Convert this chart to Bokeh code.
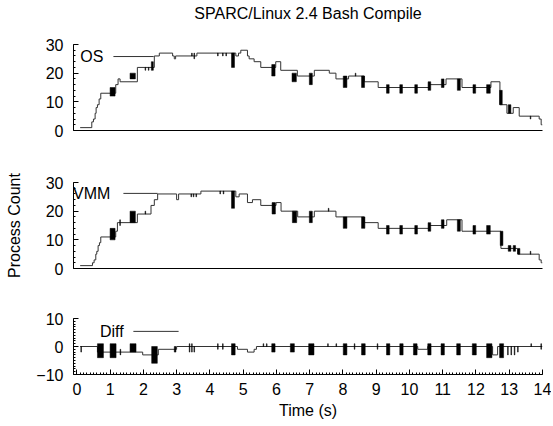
from bokeh.plotting import figure
from bokeh.layouts import column
from bokeh.models import Range1d, FixedTicker, Label
from bokeh.core.properties import value
from bokeh.embed import file_html
from bokeh.resources import INLINE

FONT = "Liberation Sans"
FS = "16px"

title_text = "SPARC/Linux 2.4 Bash Compile"
x_label = "Time (s)"
y_label = "Process Count"
x_ticks = [0, 1, 2, 3, 4, 5, 6, 7, 8, 9, 10, 11, 12, 13, 14]
count_ticks = [0, 10, 20, 30]
diff_ticks = [-10, 0, 10]

# ---- OS series (step start time, value) ----
os_t = [0.10, 0.45, 0.50, 0.55, 0.58, 0.62, 0.67, 0.72, 1.17, 1.24, 1.30, 1.82, 2.33,
        2.48, 2.88, 2.93, 2.97, 3.61, 4.78, 4.86, 4.93, 5.13, 5.18, 5.33, 5.53, 5.98,
        6.13, 6.63, 7.14, 7.59, 7.79, 8.17, 8.64, 9.06, 10.60, 11.10, 11.58, 12.45,
        12.72, 12.93, 13.12, 13.30, 13.90, 13.96, 14.00]
os_v = [1, 3, 4, 6, 8, 9, 11, 13, 16, 18, 17, 22, 26,
        27, 26, 25, 26, 27, 26, 27, 28, 26, 25, 24, 22, 24,
        21, 19, 21, 20, 18, 19, 17, 15, 16, 18, 15, 17,
        9, 6, 8, 5, 4, 2, 2]
# OS rapid-oscillation bursts: start, end, low, high
os_b0 = [1.00, 1.60, 2.24, 2.05, 2.15, 3.45, 3.52, 4.23, 4.38, 4.48, 4.65, 5.86, 6.47, 6.99,
         8.01, 8.37, 8.56, 9.31, 9.71, 10.16, 10.56, 10.96, 11.44, 11.91, 12.32, 12.71,
         12.97, 13.63]
os_b1 = [1.15, 1.76, 2.30, 2.07, 2.17, 3.47, 3.54, 4.25, 4.40, 4.50, 4.74, 5.96, 6.60, 7.08,
         8.12, 8.39, 8.65, 9.39, 9.79, 10.24, 10.64, 11.04, 11.53, 11.99, 12.43, 12.79,
         13.05, 13.65]
os_lo = [12, 18, 21, 21, 21, 26, 25, 26, 26, 26, 22, 19, 17, 16,
         15, 19, 15, 13, 13, 13, 14, 15, 14, 13, 13, 9,
         6, 4]
os_hi = [15, 20, 24, 22, 22, 27, 27, 27, 27, 27, 27, 23, 20, 20,
         19, 20, 19, 16, 16, 16, 17, 18, 18, 16, 16, 14,
         9, 5]

# ---- VMM series ----
vmm_t = [0.10, 0.47, 0.52, 0.57, 0.60, 0.64, 0.68, 0.72, 1.17, 1.22, 1.82, 2.23, 2.33,
         2.43, 3.00, 3.06, 3.73, 4.78, 4.88, 5.13, 5.28, 5.53, 5.99, 6.14, 6.64, 7.14,
         7.79, 8.64, 9.06, 10.60, 11.12, 11.58, 12.75, 13.25, 13.90, 13.96, 14.00]
vmm_v = [1, 2, 3, 5, 6, 8, 9, 11, 13, 16, 19, 22, 24,
         26, 24, 26, 27, 25, 26, 23, 24, 22, 23, 20, 18, 20,
         18, 16, 14, 15, 17, 13, 7, 5, 3, 2, 2]
vmm_b0 = [1.00, 1.29, 1.60, 2.05, 3.43, 3.50, 3.58, 4.30, 4.40, 4.65, 5.87, 6.48, 6.99,
          7.56, 8.01, 8.56, 9.31, 9.71, 10.16, 10.56, 10.96, 11.44, 11.91, 12.32, 12.73,
          12.97, 13.12, 13.26, 13.63]
vmm_b1 = [1.15, 1.31, 1.76, 2.07, 3.45, 3.52, 3.60, 4.32, 4.42, 4.74, 5.97, 6.61, 7.08,
          7.58, 8.12, 8.66, 9.39, 9.79, 10.24, 10.64, 11.04, 11.53, 11.99, 12.43, 12.81,
          13.05, 13.19, 13.32, 13.65]
vmm_lo = [10, 15, 16, 19, 25, 25, 25, 26, 26, 21, 19, 16, 16,
          20, 14, 14, 12, 12, 12, 13, 14, 13, 12, 12, 8,
          6, 6, 5, 5]
vmm_hi = [14, 17, 20, 20, 26, 26, 26, 27, 27, 27, 23, 20, 20,
          21, 18, 18, 15, 15, 15, 16, 17, 17, 15, 15, 13,
          8, 8, 7, 6]

# ---- Diff series ----
diff_t = [0.10, 0.62, 1.98, 2.45, 3.00, 4.83, 5.13, 5.33, 5.40, 10.25, 10.55, 12.50, 12.65, 14.00]
diff_v = [0, -2, -3, -1, 0, -1, -2, -1, 0, -1, 0, -3, 0, 0]
diff_b0 = [0.12, 0.62, 1.00, 1.30, 1.60, 2.25, 2.93, 3.38, 3.45, 3.52, 4.23, 4.38, 4.65, 5.60,
           5.70, 5.86, 6.42, 6.97, 7.54, 7.79, 8.01, 8.34, 8.56, 9.03, 9.31, 9.71, 10.12,
           10.55, 10.95, 11.42, 11.89, 12.32, 12.71, 12.95, 13.05, 13.15, 13.25, 13.65, 13.95]
diff_b1 = [0.14, 0.80, 1.18, 1.32, 1.78, 2.42, 2.98, 3.40, 3.47, 3.54, 4.25, 4.40, 4.76, 5.62,
           5.72, 5.96, 6.54, 7.13, 7.56, 7.81, 8.12, 8.36, 8.67, 9.05, 9.41, 9.81, 10.23,
           10.65, 11.05, 11.53, 12.01, 12.48, 12.83, 12.97, 13.07, 13.17, 13.27, 13.67, 13.97]
diff_lo = [-2, -4, -4, -3, -2, -6, -2, -2, -2, -2, -1, -1, -3, 0,
           0, -2, -2, -3, 0, 0, -3, -1, -3, -1, -3, -3, -3,
           -3, -3, -3, -3, -4, -4, -3, -3, -3, -2, 0, -1]
diff_hi = [0, 1, 1, -1, 1, 0, 0, 1, 1, 0, 1, 1, 1, 1,
           1, 1, 1, 1, 1, 1, 1, 1, 1, 1, 1, 1, 1,
           1, 1, 1, 1, 1, 1, 0, 0, 0, 0, 1, 1]

LINE = "#333333"


def bare(fh):
    p = figure(frame_width=469, frame_height=fh,
               min_border_left=73, min_border_right=9,
               min_border_top=0, min_border_bottom=0,
               x_range=Range1d(-0.1, 14), y_range=Range1d(0, 1),
               output_backend="svg", toolbar_location=None)
    p.axis.visible = False
    p.grid.visible = False
    p.outline_line_color = None
    p.background_fill_color = "white"
    p.border_fill_color = "white"
    return p


def panel(fh, top, bottom, yr, yticks, yminor, show_x):
    p = figure(frame_width=469, frame_height=fh,
               min_border_left=73, min_border_right=9,
               min_border_top=top, min_border_bottom=bottom,
               x_range=Range1d(-0.1, 14), y_range=Range1d(*yr),
               output_backend="svg", toolbar_location=None)
    p.grid.visible = False
    p.outline_line_color = None
    p.background_fill_color = "white"
    p.border_fill_color = "white"
    ya = p.yaxis[0]
    ya.ticker = FixedTicker(ticks=yticks, minor_ticks=yminor)
    ya.major_tick_in = 5
    ya.major_tick_out = 0
    ya.minor_tick_in = 2
    ya.minor_tick_out = 0
    ya.axis_line_color = "black"
    ya.major_tick_line_color = "black"
    ya.minor_tick_line_color = "black"
    ya.major_label_text_font = FONT
    ya.major_label_text_font_size = FS
    ya.major_label_text_color = "black"
    ya.major_label_standoff = 10
    xa = p.xaxis[0]
    xa.axis_line_color = "black"
    if show_x:
        xa.ticker = FixedTicker(ticks=x_ticks, minor_ticks=[i / 10 for i in range(0, 141)])
        xa.major_tick_in = 5
        xa.major_tick_out = 0
        xa.minor_tick_in = 2
        xa.minor_tick_out = 0
        xa.major_tick_line_color = "black"
        xa.minor_tick_line_color = "black"
        xa.major_label_text_font = FONT
        xa.major_label_text_font_size = FS
        xa.major_label_text_color = "black"
        xa.major_label_standoff = 8
        xa.axis_label = x_label
        xa.axis_label_text_font = FONT
        xa.axis_label_text_font_size = FS
        xa.axis_label_text_font_style = "normal"
        xa.axis_label_text_color = "black"
        xa.axis_label_standoff = 4
    else:
        xa.ticker = FixedTicker(ticks=[], minor_ticks=[])
        xa.major_tick_line_color = None
        xa.minor_tick_line_color = None
    return p


def legend(p, name, tx, ty, x0, x1):
    p.add_layout(Label(x=tx, y=ty, text=name, text_align="right", text_baseline="middle",
                       text_font=FONT, text_font_size=FS, text_color="black"))
    p.segment(x0=[x0], y0=[ty], x1=[x1], y1=[ty], line_color=LINE, line_width=1)


p0 = bare(26)
p0.text(x=[6.95], y=[0.5], text=[title_text], text_align="center", text_baseline="middle",
        text_font=value(FONT), text_font_size=value(FS), text_color="black")

p1 = panel(86, 18, 25, (0, 30), count_ticks, list(range(0, 31, 2)), False)
p1.step(x=os_t, y=os_v, mode="after", line_color=LINE, line_width=1)
p1.quad(left=os_b0, right=os_b1, bottom=os_lo, top=os_hi, fill_color="black", line_color="black", line_width=0.5)
legend(p1, "OS", 0.80, 25.8, 1.10, 2.31)

p2 = panel(86, 27, 25, (0, 30), count_ticks, list(range(0, 31, 2)), False)
ya2 = p2.yaxis[0]
ya2.axis_label = y_label
ya2.axis_label_text_font = FONT
ya2.axis_label_text_font_size = FS
ya2.axis_label_text_font_style = "normal"
ya2.axis_label_text_color = "black"
ya2.axis_label_standoff = 20
p2.step(x=vmm_t, y=vmm_v, mode="after", line_color=LINE, line_width=1)
p2.quad(left=vmm_b0, right=vmm_b1, bottom=vmm_lo, top=vmm_hi, fill_color="black", line_color="black", line_width=0.5)
legend(p2, "VMM", 1.01, 26.2, 1.40, 2.43)

p3 = panel(56, 25, 50, (-10, 10), diff_ticks, list(range(-10, 11)), True)
p3.step(x=diff_t, y=diff_v, mode="after", line_color=LINE, line_width=1)
p3.quad(left=diff_b0, right=diff_b1, bottom=diff_lo, top=diff_hi, fill_color="black", line_color="black", line_width=0.5)
legend(p3, "Diff", 1.41, 5.4, 1.70, 3.06)

layout = column(p0, p1, p2, p3)
open("out.html", "w").write(file_html(layout, INLINE))
